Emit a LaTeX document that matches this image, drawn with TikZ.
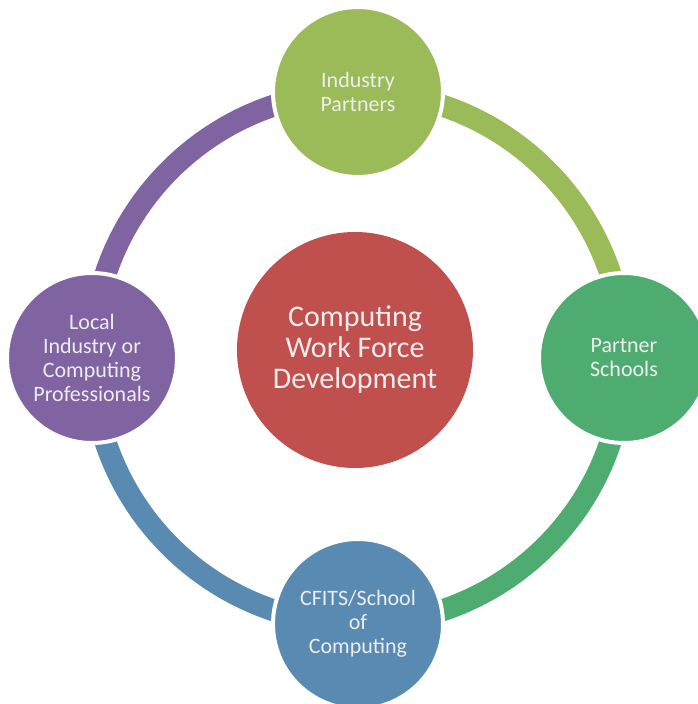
\documentclass[tikz,border=0pt]{standalone}
\usepackage{fontspec}
\setmainfont{Carlito}
\usetikzlibrary{backgrounds}

\definecolor{hubred}{HTML}{C0504D}
\definecolor{leafgreen}{HTML}{9BBB59}
\definecolor{seagreen}{HTML}{4EAC71}
\definecolor{steelblue}{HTML}{588AB2}
\definecolor{violet}{HTML}{8064A2}

\tikzset{
  hub/.style={circle, fill=hubred, minimum size=236pt, inner sep=0pt,
    align=center, text=white!93!black, font=\fontsize{30}{31}\selectfont},
  spoke/.style={circle, draw=white, line width=4pt, minimum size=170pt,
    inner sep=0pt, align=center, text=white!93!black,
    font=\fontsize{22}{24}\selectfont},
  ringarc/.style={line width=22pt},
}

\begin{document}
\begin{tikzpicture}[x=1pt,y=1pt]
    \useasboundingbox (0,0) rectangle (697,704);

    \node[hub] (hub) at (355,354) {Computing\\Work Force\\Development};

    \node[spoke, fill=leafgreen] (partners) at (358,612) {Industry\\Partners};
    \node[spoke, fill=seagreen] (schools) at (624,346) {Partner\\Schools};
    \node[spoke, fill=steelblue] (cfits) at (358,80) {CFITS/School\\of\\Computing};
    \node[spoke, fill=violet] (local) at (92,346) {Local\\Industry or\\Computing\\Professionals};

    % ring behind the partner circles
    \begin{scope}[on background layer]
      \draw[ringarc, leafgreen] (partners.center) arc[start angle=90, end angle=0, radius=266];
      \draw[ringarc, seagreen] (schools.center) arc[start angle=0, end angle=-90, radius=266];
      \draw[ringarc, steelblue] (cfits.center) arc[start angle=270, end angle=180, radius=266];
      \draw[ringarc, violet] (local.center) arc[start angle=180, end angle=90, radius=266];
    \end{scope}
  \end{tikzpicture}
\end{document}
